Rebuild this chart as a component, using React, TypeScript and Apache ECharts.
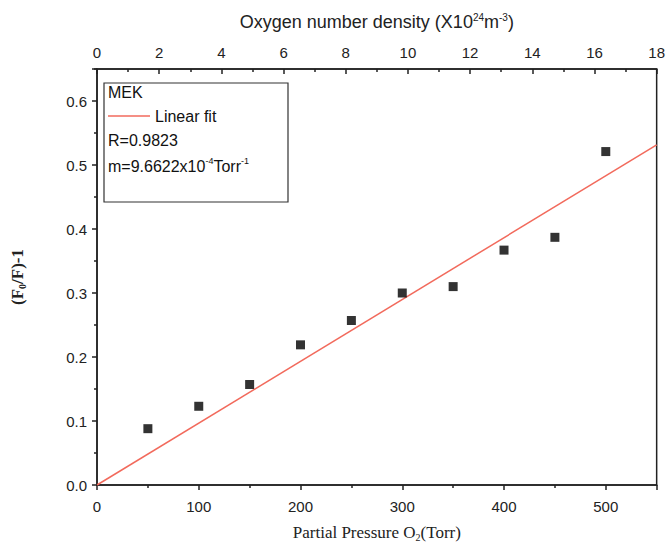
import React, { useEffect, useRef } from "react";
import * as echarts from "echarts";

const pressure = [50, 100, 150, 200, 250, 300, 350, 400, 450, 500];
const ratio = [0.088, 0.123, 0.157, 0.219, 0.257, 0.3, 0.31, 0.367, 0.387, 0.521];
const fitX = [0, 550];
const fitY = [0, 0.5314];
const legendLines = ["MEK", "Linear fit", "R=0.9823"];

const SANS = "Liberation Sans, Arial, sans-serif";
const SERIF = "Liberation Serif, Times New Roman, serif";
const AX = "#222";

export default function App() {
  const ref = useRef<HTMLDivElement>(null);
  useEffect(() => {
    const chart = echarts.init(ref.current!, null, { renderer: "svg" });
    chart.setOption({
      animation: false,
      backgroundColor: "#fff",
      grid: { left: 97, right: 10, top: 69, bottom: 59, show: true, borderColor: AX, borderWidth: 1.5, backgroundColor: "transparent" },
      xAxis: [
        {
          type: "value", position: "bottom", min: 0, max: 550, interval: 100,
          axisLine: { show: true, onZero: false, lineStyle: { color: AX, width: 1.5 } },
          axisTick: { show: true, inside: false, length: 5, lineStyle: { color: AX, width: 1.5 } },
          minorTick: { show: true, splitNumber: 2, length: 3, lineStyle: { color: AX, width: 1.5 } },
          splitLine: { show: false },
          axisLabel: { color: "#222", fontFamily: SANS, fontSize: 15, margin: 14, showMaxLabel: false },
          name: "Partial Pressure O{sub|2}(Torr)", nameLocation: "middle", nameGap: 37,
          nameTextStyle: { color: "#222", fontFamily: SERIF, fontSize: 17, rich: { sub: { fontFamily: SERIF, fontSize: 10, verticalAlign: "bottom", padding: [10, 0, 0, 0] } } },
        },
        {
          type: "value", position: "top", min: 0, max: 18, interval: 2,
          axisLine: { show: true, onZero: false, lineStyle: { color: AX, width: 1.5 } },
          axisTick: { show: true, inside: true, length: 5, lineStyle: { color: AX, width: 1.5 } },
          minorTick: { show: true, splitNumber: 2, length: 3, lineStyle: { color: AX, width: 1.5 } },
          splitLine: { show: false },
          axisLabel: { color: "#222", fontFamily: SANS, fontSize: 15, margin: 9 },
          name: "Oxygen number density (X10{sup|24}m{sup|-3})", nameLocation: "middle", nameGap: 37,
          nameTextStyle: { color: "#222", fontFamily: SANS, fontSize: 18, rich: { sup: { fontFamily: SANS, fontSize: 10, verticalAlign: "top", padding: [0, 0, 10, 0] } } },
        },
      ],
      yAxis: [
        {
          type: "value", min: 0, max: 0.65, interval: 0.1,
          axisLine: { show: true, onZero: false, lineStyle: { color: AX, width: 1.5 } },
          axisTick: { show: true, inside: false, length: 5, lineStyle: { color: AX, width: 1.5 } },
          minorTick: { show: true, splitNumber: 2, length: 3, lineStyle: { color: AX, width: 1.5 } },
          splitLine: { show: false },
          axisLabel: { color: "#222", fontFamily: SANS, fontSize: 15, margin: 10, showMaxLabel: false, formatter: (v: number) => v.toFixed(1) },
          name: "(F{sub|0}/F)-1", nameLocation: "middle", nameGap: 70, nameRotate: 90,
          nameTextStyle: { color: "#222", fontFamily: SERIF, fontSize: 17, fontWeight: "bold", rich: { sub: { fontFamily: SERIF, fontSize: 10, fontWeight: "bold", verticalAlign: "bottom", padding: [10, 0, 0, 0] } } },
        },
      ],
      series: [
        {
          type: "line", xAxisIndex: 0, yAxisIndex: 0, data: fitX.map((x, i) => [x, fitY[i]]),
          symbol: "none", lineStyle: { color: "#f26a5c", width: 1.5 }, z: 2,
        },
        {
          type: "scatter", xAxisIndex: 0, yAxisIndex: 0, data: pressure.map((x, i) => [x, ratio[i]]),
          symbol: "rect", symbolSize: 9, itemStyle: { color: "#000" }, z: 3,
        },
      ],
      graphic: [
        { type: "rect", shape: { x: 104, y: 83, width: 184, height: 119 }, style: { fill: "#fff", stroke: "#333", lineWidth: 1.2 }, z: 10 },
        { type: "text", x: 108, y: 92, style: { text: legendLines[0], font: `16px ${SANS}`, fill: "#111", verticalAlign: "middle" }, z: 11 },
        { type: "line", shape: { x1: 108, y1: 116, x2: 150, y2: 116 }, style: { stroke: "#f26a5c", lineWidth: 1.5 }, z: 11 },
        { type: "text", x: 155, y: 116, style: { text: legendLines[1], font: `16px ${SANS}`, fill: "#111", verticalAlign: "middle" }, z: 11 },
        { type: "text", x: 108, y: 140, style: { text: legendLines[2], font: `16px ${SANS}`, fill: "#111", verticalAlign: "middle" }, z: 11 },
        {
          type: "text", x: 108, y: 166, z: 11,
          style: {
            text: "m=9.6622x10{sup|-4}Torr{sup|-1}", font: `16px ${SANS}`, fill: "#111", verticalAlign: "middle",
            rich: { sup: { fontSize: 9, fontFamily: SANS, verticalAlign: "top", padding: [0, 0, 10, 0] } },
          },
        },
      ],
    });
    return () => chart.dispose();
  }, []);
  return <div ref={ref} style={{ position: "absolute", left: 0, top: 0, width: 668, height: 547 }} />;
}
